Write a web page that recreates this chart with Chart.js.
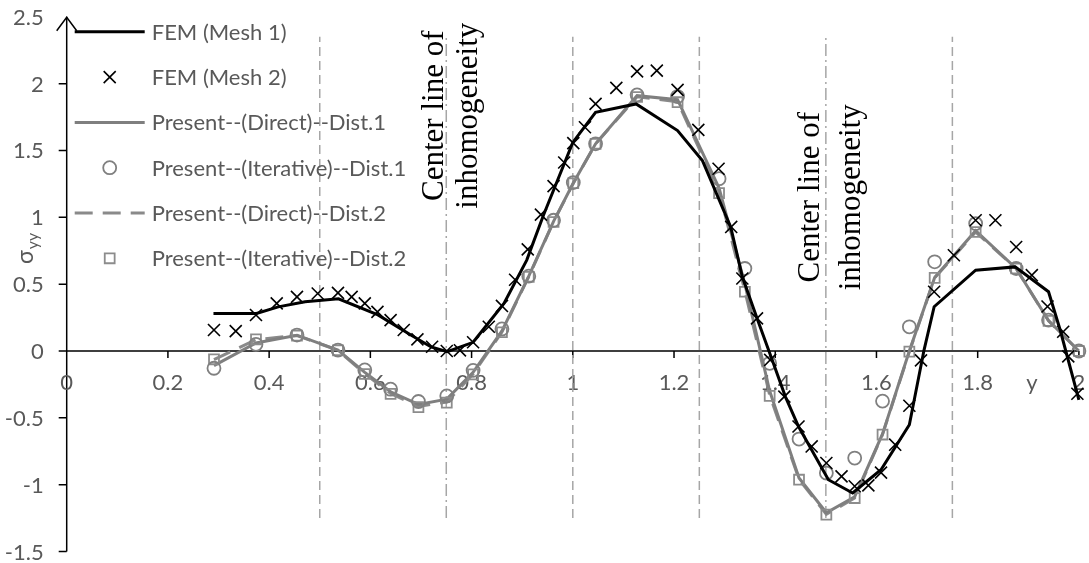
<!DOCTYPE html>
<html>
<head>
<meta charset="utf-8">
<script src="https://cdn.jsdelivr.net/npm/chart.js@4.4.0/dist/chart.umd.min.js"></script>
<style>
  html, body { margin: 0; padding: 0; background: #ffffff; }
  #wrap { width: 1089px; height: 563px; position: relative; }
</style>
</head>
<body>
<div id="wrap"><canvas id="c" width="1089" height="563"></canvas></div>
<script>
// ---- series names ----
const seriesNames = [
  'FEM (Mesh 1)',
  'FEM (Mesh 2)',
  'Present--(Direct)--Dist.1',
  'Present--(Iterative)--Dist.1',
  'Present--(Direct)--Dist.2',
  'Present--(Iterative)--Dist.2'
];

// ---- FEM, coarse mesh (polyline) ----
const mesh1X = [0.29, 0.375, 0.418, 0.471, 0.537, 0.615, 0.68, 0.72, 0.752, 0.803, 0.864, 0.909, 0.942, 1.0, 1.045,
  1.125, 1.207, 1.256, 1.312, 1.335, 1.364, 1.394, 1.42, 1.446, 1.505, 1.553, 1.609, 1.665, 1.694, 1.714,
  1.796, 1.874, 1.94, 1.963, 2.0];
const mesh1Y = [0.28, 0.28, 0.33, 0.368, 0.39, 0.27, 0.12, 0.03, -0.005, 0.065, 0.356, 0.68, 1.015, 1.56, 1.786,
  1.848, 1.649, 1.425, 0.928, 0.555, 0.244, -0.067, -0.341, -0.565, -0.963, -1.062, -0.888, -0.552, 0.007, 0.331,
  0.604, 0.629, 0.443, 0.157, -0.366];

// ---- FEM, fine mesh (markers) ----
const mesh2X = [0.291, 0.334, 0.374, 0.415, 0.455, 0.496, 0.536, 0.563, 0.589, 0.614, 0.640, 0.666, 0.693, 0.722,
  0.751, 0.777, 0.803, 0.834, 0.860, 0.886, 0.911, 0.937, 0.962, 0.983, 1.001, 1.024, 1.045, 1.086, 1.127, 1.166,
  1.207, 1.248, 1.288, 1.313, 1.335, 1.364, 1.390, 1.418, 1.446, 1.472, 1.501, 1.531, 1.557, 1.584, 1.609, 1.637,
  1.665, 1.688, 1.714, 1.753, 1.796, 1.835, 1.876, 1.907, 1.938, 1.969, 1.979, 1.997];
const mesh2Y = [0.157, 0.149, 0.269, 0.356, 0.405, 0.430, 0.435, 0.405, 0.356, 0.293, 0.231, 0.157, 0.087, 0.032,
  0.0, 0.005, 0.065, 0.181, 0.337, 0.533, 0.76, 1.02, 1.233, 1.41, 1.555, 1.674, 1.849, 1.968, 2.092, 2.097,
  1.953, 1.654, 1.363, 0.928, 0.542, 0.244, -0.067, -0.341, -0.565, -0.714, -0.838, -0.938, -1.012, -1.005, -0.91, -0.701,
  -0.41, -0.07, 0.443, 0.716, 0.978, 0.978, 0.778, 0.567, 0.333, 0.144, -0.04, -0.32];

// ---- present method, shared abscissae ----
const presentX = [0.291, 0.374, 0.455, 0.536, 0.589, 0.640, 0.695, 0.751, 0.803, 0.860, 0.913, 0.962, 1.001, 1.045,
  1.127, 1.207, 1.289, 1.340, 1.389, 1.447, 1.501, 1.557, 1.612, 1.665, 1.715, 1.796, 1.876, 1.940, 2.0];
const directDist1Y = [-0.11, 0.06, 0.118, 0.006, -0.16, -0.305, -0.40, -0.36, -0.16, 0.15, 0.56, 0.97, 1.257, 1.55,
  1.91, 1.88, 1.22, 0.5, -0.3, -0.95, -1.21, -1.09, -0.62, 0.0, 0.55, 0.9, 0.617, 0.228, 0.0];
const iterDist1Y = [-0.129, 0.05, 0.119, 0.007, -0.142, -0.286, -0.378, -0.336, -0.145, 0.165, 0.56, 0.978, 1.26, 1.55,
  1.916, 1.903, 1.289, 0.617, -0.092, -0.659, -0.913, -0.801, -0.375, 0.181, 0.667, 0.953, 0.617, 0.231, 0.0];
const directDist2Y = [-0.065, 0.085, 0.116, 0.005, -0.17, -0.318, -0.415, -0.382, -0.172, 0.142, 0.556, 0.966, 1.255, 1.55,
  1.902, 1.865, 1.19, 0.45, -0.33, -0.96, -1.222, -1.1, -0.625, -0.005, 0.547, 0.89, 0.617, 0.225, 0.0];
const iterDist2Y = [-0.062, 0.087, 0.115, 0.005, -0.172, -0.321, -0.42, -0.386, -0.175, 0.14, 0.555, 0.965, 1.255, 1.55,
  1.90, 1.861, 1.181, 0.443, -0.336, -0.963, -1.224, -1.1, -0.625, -0.005, 0.547, 0.89, 0.617, 0.225, 0.0];

// ---- vertical guides ----
const guideX = [0.5, 1.0, 1.25, 1.75];          // dashed
const centerLineX = [0.75, 1.5];                 // dash-dot, centre of inhomogeneity
const guideSpan = [-1.25, 2.35];
const centerLabelLines = ['Center line of', 'inhomogeneity'];

// ---- axes ----
const xMin = 0, xMax = 2;
const yMin = -1.5, yMax = 2.5;
const xTickValues = [0, 0.2, 0.4, 0.6, 0.8, 1, 1.2, 1.4, 1.6, 1.8, 2];
const xTickLabels = ['0', '0.2', '0.4', '0.6', '0.8', '1', '1.2', '1.4', '1.6', '1.8', '2'];
const yTickValues = [2.5, 2, 1.5, 1, 0.5, 0, -0.5, -1, -1.5];
const yTickLabels = ['2.5', '2', '1.5', '1', '0.5', '0', '-0.5', '-1', '-1.5'];
const xTitle = 'y';
const yTitleMain = 'σ';
const yTitleSub = 'yy';

const pairs = (xs, ys) => xs.map((v, i) => ({ x: v, y: ys[i] }));

const UI_FONT = 'Lato, "Open Sans", sans-serif';
const LABEL_GREY = '#595959';

const datasets = [
  { label: seriesNames[0], data: pairs(mesh1X, mesh1Y), showLine: true, borderColor: '#000000', borderWidth: 3,
    pointRadius: 0, order: 0 },
  { label: seriesNames[1], data: pairs(mesh2X, mesh2Y), showLine: false, pointStyle: 'crossRot', pointRadius: 8.5,
    borderColor: '#000000', pointBorderColor: '#000000', pointBorderWidth: 1.6, order: 1 },
  { label: seriesNames[2], data: pairs(presentX, directDist1Y), showLine: true, borderColor: '#7f7f7f', borderWidth: 3,
    pointRadius: 0, order: 4 },
  { label: seriesNames[3], data: pairs(presentX, iterDist1Y), showLine: false, pointStyle: 'circle', pointRadius: 6.5,
    borderColor: '#808080', pointBorderColor: '#808080', pointBackgroundColor: 'rgba(0,0,0,0)', pointBorderWidth: 1.8, order: 2 },
  { label: seriesNames[4], data: pairs(presentX, directDist2Y), showLine: true, borderColor: '#8a8a8a', borderWidth: 3,
    borderDash: [18, 10], pointRadius: 0, order: 5 },
  { label: seriesNames[5], data: pairs(presentX, iterDist2Y), showLine: false, pointStyle: 'rect', pointRadius: 7,
    borderColor: '#8c8c8c', pointBorderColor: '#8c8c8c', pointBackgroundColor: 'rgba(0,0,0,0)', pointBorderWidth: 1.8, order: 3 }
];
const legendCount = datasets.length;

guideX.forEach(g => datasets.push({
  label: '', data: [{ x: g, y: guideSpan[0] }, { x: g, y: guideSpan[1] }], showLine: true,
  borderColor: '#a6a6a6', borderWidth: 1.5, borderDash: [9, 5], pointRadius: 0, order: 10
}));
centerLineX.forEach(g => datasets.push({
  label: '', data: [{ x: g, y: guideSpan[0] }, { x: g, y: guideSpan[1] }], showLine: true,
  borderColor: '#a6a6a6', borderWidth: 1.5, borderDash: [12, 4, 2, 4], pointRadius: 0, order: 10
}));
datasets.forEach(d => { d.clip = false; d.tension = 0; d.fill = false; });

// Axes crossing at the origin, with an open arrow on the vertical axis
const crossAxes = {
  id: 'crossAxes',
  beforeDatasetsDraw(chart) {
    const { ctx, scales: { x, y } } = chart;
    const ox = x.getPixelForValue(0), oy = y.getPixelForValue(0);
    ctx.save();
    ctx.strokeStyle = '#000000';
    ctx.lineWidth = 1.5;
    ctx.beginPath();
    ctx.moveTo(x.getPixelForValue(xMin), oy);
    ctx.lineTo(x.getPixelForValue(xMax), oy);
    xTickValues.forEach(v => { const p = x.getPixelForValue(v); ctx.moveTo(p, oy); ctx.lineTo(p, oy + 7); });
    const top = y.getPixelForValue(yMax);
    ctx.moveTo(ox, y.getPixelForValue(yMin));
    ctx.lineTo(ox, top);
    yTickValues.forEach(v => { if (v === yMax) return; const p = y.getPixelForValue(v); ctx.moveTo(ox, p); ctx.lineTo(ox - 8, p); });
    ctx.stroke();
    // arrow head
    ctx.beginPath();
    ctx.moveTo(ox - 10, top + 14);
    ctx.lineTo(ox, top + 0.5);
    ctx.lineTo(ox + 10, top + 14);
    ctx.stroke();

    ctx.fillStyle = LABEL_GREY;
    ctx.font = '22px ' + UI_FONT;
    ctx.textBaseline = 'alphabetic';
    ctx.textAlign = 'center';
    xTickValues.forEach((v, i) => ctx.fillText(xTickLabels[i], x.getPixelForValue(v), oy + 39));
    ctx.textAlign = 'right';
    yTickValues.forEach((v, i) => ctx.fillText(yTickLabels[i], ox - 23, y.getPixelForValue(v) + 8));
    // axis titles
    ctx.textAlign = 'center';
    ctx.fillText(xTitle, x.getPixelForValue(1.907), oy + 39);
    ctx.save();
    ctx.translate(ox - 34, y.getPixelForValue(0.65));
    ctx.rotate(-Math.PI / 2);
    ctx.textAlign = 'left';
    ctx.font = '23px ' + UI_FONT;
    ctx.fillText(yTitleMain, 0, 0);
    const w = ctx.measureText(yTitleMain).width;
    ctx.font = '16px ' + UI_FONT;
    ctx.fillText(yTitleSub, w + 1, 5);
    ctx.restore();
    ctx.restore();
  }
};

// Legend inside the plot, plus the rotated centre-line notes
const innerLegend = {
  id: 'innerLegend',
  afterDatasetsDraw(chart) {
    const { ctx, chartArea, scales: { x, y } } = chart;
    const left = chartArea.left + 8;
    const firstRow = chartArea.top + 15;
    const rowGap = 45.3;
    ctx.save();
    for (let i = 0; i < legendCount; i++) {
      const ds = chart.data.datasets[i];
      const cy = firstRow + i * rowGap;
      if (ds.showLine) {
        ctx.save();
        ctx.strokeStyle = ds.borderColor;
        ctx.lineWidth = ds.borderWidth;
        ctx.setLineDash(ds.borderDash || []);
        ctx.beginPath();
        ctx.moveTo(left, cy);
        ctx.lineTo(left + 70, cy);
        ctx.stroke();
        ctx.restore();
      } else {
        ctx.save();
        ctx.strokeStyle = ds.pointBorderColor;
        ctx.fillStyle = ds.pointBackgroundColor || 'rgba(0,0,0,0)';
        ctx.lineWidth = ds.pointBorderWidth;
        Chart.helpers.drawPoint(ctx, { pointStyle: ds.pointStyle, radius: ds.pointRadius, rotation: 0, borderWidth: ds.pointBorderWidth }, left + 35, cy);
        ctx.restore();
      }
      ctx.fillStyle = LABEL_GREY;
      ctx.font = '22px ' + UI_FONT;
      ctx.textAlign = 'left';
      ctx.textBaseline = 'alphabetic';
      ctx.fillText(ds.label, left + 77, cy + 8);
    }

    // rotated notes beside each centre line
    ctx.fillStyle = '#000000';
    ctx.font = '31px "Liberation Serif", "Times New Roman", serif';
    ctx.textAlign = 'center';
    ctx.textBaseline = 'alphabetic';
    const notes = [
      { at: centerLineX[0], midY: 1.76, offsets: [-3, 31] },
      { at: centerLineX[1], midY: 1.15, offsets: [-7, 34] }
    ];
    notes.forEach(n => {
      const px = x.getPixelForValue(n.at);
      const py = y.getPixelForValue(n.midY);
      centerLabelLines.forEach((t, k) => {
        ctx.save();
        ctx.translate(px + n.offsets[k], py);
        ctx.rotate(-Math.PI / 2);
        ctx.fillText(t, 0, 0);
        ctx.restore();
      });
    });
    ctx.restore();
  }
};

new Chart(document.getElementById('c'), {
  type: 'scatter',
  data: { datasets },
  options: {
    responsive: false,
    animation: false,
    devicePixelRatio: 1,
    layout: { padding: { left: 66.7, right: 3.3, top: 16.8, bottom: 11.5 } },
    plugins: { legend: { display: false }, tooltip: { enabled: false } },
    events: [],
    scales: {
      x: { type: 'linear', min: xMin, max: xMax, display: false },
      y: { type: 'linear', min: yMin, max: yMax, display: false }
    }
  },
  plugins: [crossAxes, innerLegend]
});
</script>
</body>
</html>
